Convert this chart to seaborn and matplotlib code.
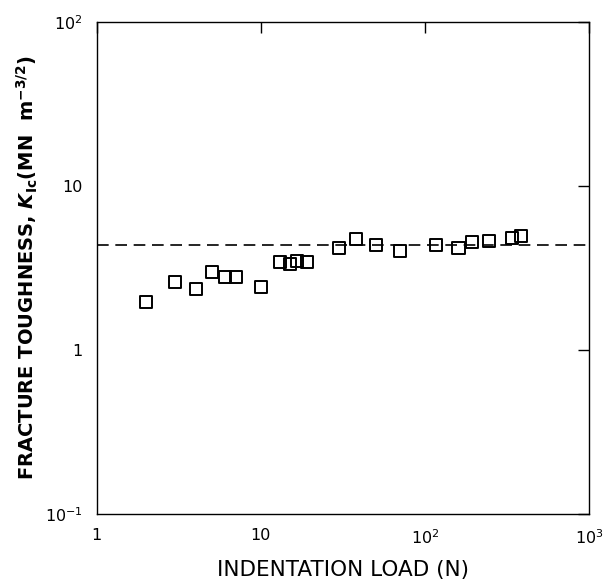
import matplotlib
matplotlib.use("Agg")
import matplotlib.pyplot as plt
import seaborn as sns
import pandas as pd

# indentation load (N) and fracture toughness K_Ic (MN m^-3/2)
load = [2, 3, 4, 5, 6, 7, 10, 13, 15, 16.6, 19, 30, 38, 50, 70, 116, 160, 194, 245, 340, 385]
k_ic = [1.97, 2.61, 2.37, 3.00, 2.80, 2.80, 2.41, 3.44, 3.36, 3.50, 3.45, 4.17,
        4.75, 4.36, 4.00, 4.38, 4.19, 4.56, 4.60, 4.82, 4.95]
k_mean = 4.34

x_ticks = [1, 10, 100, 1000]
x_labels = ["1", "10", r"$10^{2}$", r"$10^{3}$"]
y_ticks = [0.1, 1, 10, 100]
y_labels = [r"$10^{-1}$", "1", "10", r"$10^{2}$"]

df = pd.DataFrame({"load": load, "k_ic": k_ic})

sns.set_theme(style="white")
plt.rcParams["font.family"] = ["DejaVu Sans"]
plt.rcParams["text.color"] = "black"
plt.rcParams["axes.labelcolor"] = "black"
plt.rcParams["xtick.color"] = "black"
plt.rcParams["ytick.color"] = "black"

fig = plt.figure(figsize=(6.13, 5.85), dpi=100)
ax = fig.add_axes([0.158, 0.1214, 0.803, 0.841])

sns.scatterplot(data=df, x="load", y="k_ic", marker="s", s=75,
                facecolor="none", edgecolor="black", linewidth=1.4, ax=ax, zorder=3)
ax.axhline(k_mean, color="black", linestyle=(0, (7, 4)), linewidth=1.2, zorder=2)

ax.set_xscale("log")
ax.set_yscale("log")
ax.set_xlim(1, 1000)
ax.set_ylim(0.1, 100)
ax.minorticks_off()
ax.set_xticks(x_ticks)
ax.set_xticklabels(x_labels)
ax.set_yticks(y_ticks)
ax.set_yticklabels(y_labels)
ax.tick_params(which="both", direction="in", top=True, right=True, length=8,
               width=1, labelsize=11.5, pad=10)

for sp in ax.spines.values():
    sp.set_color("black")
    sp.set_linewidth(1)

ax.set_xlabel("INDENTATION LOAD (N)", fontsize=15.5, labelpad=10)
ax.set_ylabel(r"FRACTURE TOUGHNESS, $\boldsymbol{K}_{\mathbf{Ic}}$(MN  m$^{\mathbf{-3/2}}$)",
              fontsize=14, fontweight="bold", labelpad=4)

fig.savefig("out.png", dpi=100, facecolor="white")
